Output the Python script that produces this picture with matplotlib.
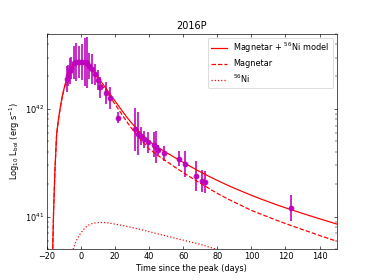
import numpy as np
import matplotlib
matplotlib.use("Agg")
import matplotlib.pyplot as plt

# observed bolometric light curve (log10 L, dex errors)
t_obs = [-8.4, -7.5, -6.4, -5.5, -4.0, -2.6, -1.0, 0.6, 2.3, 3.8, 5.0, 6.5,
         8.2, 10.0, 11.1, 15.0, 16.9, 21.8, 31.5, 33.5, 35.0, 37.3, 39.3,
         42.8, 44.0, 45.5, 48.6, 57.4, 61.1, 67.8, 70.8, 72.9, 123.5]
logL_obs = [42.28, 42.31, 42.35, 42.38, 42.43, 42.435, 42.435, 42.435, 42.435,
            42.43, 42.40, 42.37, 42.32, 42.27, 42.20, 42.15, 42.10, 41.92,
            41.81, 41.77, 41.75, 41.72, 41.69, 41.67, 41.65, 41.62, 41.59,
            41.54, 41.49, 41.38, 41.33, 41.32, 41.08]
err_obs = [0.12, 0.10, 0.12, 0.10, 0.15, 0.18, 0.15, 0.17, 0.22, 0.24, 0.12,
           0.14, 0.10, 0.09, 0.10, 0.10, 0.10, 0.05, 0.20, 0.20, 0.08, 0.08,
           0.10, 0.12, 0.15, 0.05, 0.07, 0.07, 0.12, 0.14, 0.10, 0.10, 0.12]

# model curves
t_mod = [-17.0, -16.5, -16.0, -15.2, -14.2, -13.0, -12.0, -11.0, -10.0, -9.0,
         -8.0, -7.0, -6.0, -5.0, -4.0, -3.0, -2.0, -1.0, 0.0, 1.0, 2.0, 3.0,
         4.0, 5.0, 7.5, 10.0, 12.5, 15.0, 17.5, 20.0, 22.5, 25.0, 27.5, 30.0,
         35.0, 40.0, 45.0, 50.0, 55.0, 60.0, 65.0, 70.0, 75.0, 80.0, 85.0,
         90.0, 95.0, 100.0, 105.0, 110.0, 115.0, 120.0, 125.0, 130.0, 135.0,
         140.0, 145.0, 150.0]
logL_total = [40.40, 40.69, 41.05, 41.43, 41.77, 41.92, 42.02, 42.11, 42.18,
              42.24, 42.29, 42.33, 42.37, 42.40, 42.42, 42.435, 42.44, 42.445,
              42.445, 42.44, 42.43, 42.42, 42.405, 42.39, 42.345, 42.295,
              42.24, 42.185, 42.13, 42.075, 42.02, 41.965, 41.913, 41.865,
              41.777, 41.700, 41.645, 41.597, 41.55, 41.505, 41.46, 41.417,
              41.376, 41.337, 41.30, 41.265, 41.232, 41.199, 41.168, 41.139,
              41.11, 41.083, 41.057, 41.031, 41.006, 40.981, 40.957, 40.933]
logL_mag = [40.395, 40.685, 41.045, 41.425, 41.765, 41.915, 42.015, 42.105,
            42.175, 42.235, 42.285, 42.325, 42.365, 42.395, 42.415, 42.43,
            42.435, 42.435, 42.435, 42.43, 42.42, 42.408, 42.392, 42.375,
            42.327, 42.275, 42.217, 42.16, 42.102, 42.045, 41.986, 41.927,
            41.869, 41.815, 41.717, 41.63, 41.57, 41.517, 41.462, 41.41,
            41.36, 41.312, 41.264, 41.217, 41.175, 41.135, 41.097, 41.059,
            41.028, 40.997, 40.966, 40.937, 40.909, 40.881, 40.854, 40.826,
            40.80, 40.773]

t_ni = [-6.0, -4.5, -3.0, -2.0, -1.0, 0.0, 1.5, 3.0, 4.5, 6.0, 8.0, 10.0,
        12.0, 14.0, 17.0, 20.0, 25.0, 30.0, 35.0, 40.0, 45.0, 50.0, 55.0,
        60.0, 65.0, 70.0, 75.0, 80.0, 85.0]
logL_ni = [40.55, 40.70, 40.765, 40.80, 40.826, 40.85, 40.88, 40.905, 40.922,
           40.934, 40.942, 40.946, 40.947, 40.946, 40.94, 40.932, 40.917,
           40.90, 40.882, 40.862, 40.842, 40.822, 40.802, 40.783, 40.764,
           40.744, 40.72, 40.697, 40.676]

fig, ax = plt.subplots(figsize=(374 / 58.4, 280 / 58.4), dpi=58.4)

L = 10 ** np.array(logL_obs)
lo = L - 10 ** (np.array(logL_obs) - np.array(err_obs))
hi = 10 ** (np.array(logL_obs) + np.array(err_obs)) - L
ax.errorbar(t_obs, L, yerr=[lo, hi], fmt='o', color='m', ms=6, elinewidth=2)

ax.plot(t_mod, 10 ** np.array(logL_total), 'r-', label=r'Magnetar + $^{56}$Ni model')
ax.plot(t_mod, 10 ** np.array(logL_mag), 'r--', label='Magnetar')
ax.plot(t_ni, 10 ** np.array(logL_ni), 'r:', label=r'$^{56}$Ni')

ax.set_yscale('log')
ax.set_xlim(-20, 150)
ax.set_ylim(5e40, 5e42)
ax.tick_params(which='both', direction='in', top=True, right=True)
ax.set_xlabel('Time since the peak (days)')
ax.set_ylabel(r'Log$_{10}$ L$_{\rm bol}$ (erg s$^{-1}$)')
ax.set_title('2016P')
ax.legend(loc='upper right')

plt.savefig('out.png', dpi=58.4)
